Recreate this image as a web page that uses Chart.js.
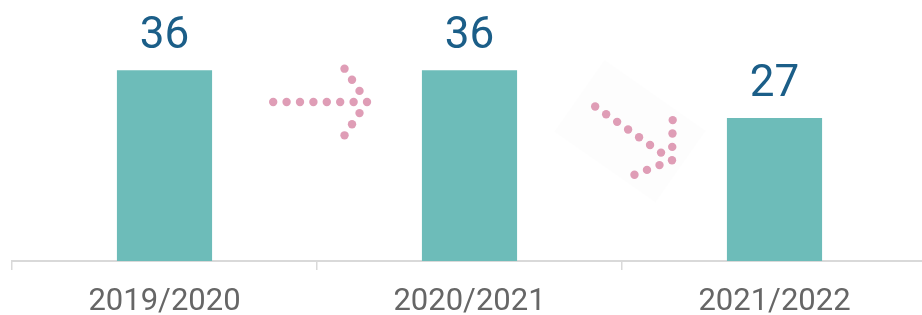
<!DOCTYPE html>
<html>
<head>
<meta charset="utf-8">
<script src="https://cdn.jsdelivr.net/npm/chart.js@4/dist/chart.umd.min.js"></script>
<style>
  html, body { margin: 0; padding: 0; background: #fff; overflow: hidden; }
  #wrap { width: 927px; height: 315px; }
</style>
</head>
<body>
<div id="wrap"><canvas id="barChart"></canvas></div>
<script>
// data
var years = ["2019/2020", "2020/2021", "2021/2022"];
var counts = [36, 36, 27];

// value labels above bars
var valueLabels = {
    id: "valueLabels",
    afterDatasetsDraw: function (chart) {
        var ctx = chart.ctx;
        var meta = chart.getDatasetMeta(0);
        ctx.save();
        ctx.font = "44px Roboto";
        ctx.fillStyle = "#1b5e88";
        ctx.textAlign = "center";
        ctx.textBaseline = "alphabetic";
        meta.data.forEach(function (bar, i) {
            ctx.fillText(counts[i], bar.x, bar.y - 22);
        });
        ctx.restore();
    }
};

// dotted arrows between bars
function dottedArrow(ctx, tx, ty, angle) {
    var step = 13.4;
    var arm = 56 * Math.PI / 180;
    var pts = [];
    for (var i = 0; i < 8; i++) {
        pts.push([tx - Math.cos(angle) * step * i, ty - Math.sin(angle) * step * i]);
    }
    [angle + Math.PI - arm, angle + Math.PI + arm].forEach(function (a) {
        for (var j = 1; j <= 3; j++) {
            pts.push([tx + Math.cos(a) * step * j, ty + Math.sin(a) * step * j]);
        }
    });
    ctx.fillStyle = "#df9db6";
    pts.forEach(function (p) {
        ctx.beginPath();
        ctx.arc(p[0], p[1], 4.2, 0, Math.PI * 2);
        ctx.fill();
    });
}

var arrows = {
    id: "arrows",
    afterDatasetsDraw: function (chart) {
        var ctx = chart.ctx;
        var x = chart.scales.x;
        var y = chart.scales.y;
        var mid1 = (x.getPixelForValue(0) + x.getPixelForValue(1)) / 2;
        var mid2 = (x.getPixelForValue(1) + x.getPixelForValue(2)) / 2;
        ctx.save();
        // very faint backdrop behind second arrow
        ctx.save();
        ctx.translate(mid2 + 8, y.getPixelForValue(24.5));
        ctx.rotate(35 * Math.PI / 180);
        ctx.fillStyle = "rgba(0,0,0,0.006)";
        ctx.fillRect(-62, -44, 124, 88);
        ctx.restore();
        dottedArrow(ctx, mid1 + 50, y.getPixelForValue(30), 0);
        dottedArrow(ctx, mid2 + 50, y.getPixelForValue(19), 35 * Math.PI / 180);
        ctx.restore();
    }
};

var ctx = document.getElementById("barChart").getContext("2d");
var myChart = new Chart(ctx, {
    type: "bar",
    data: {
        labels: years,
        datasets: [{
            data: counts,
            backgroundColor: "#6dbcb9",
            barPercentage: 0.312,
            categoryPercentage: 1,
        }, ],
    },
    options: {
        responsive: true,
        maintainAspectRatio: false,
        animation: false,
        layout: {
            padding: { left: 12, right: 0, top: 49, bottom: 0 },
        },
        plugins: {
            legend: { display: false },
            tooltip: { enabled: false },
        },
        scales: {
            x: {
                afterFit: function (scale) {
                    scale.height = 54;
                },
                grid: {
                    offset: true,
                    drawOnChartArea: false,
                    drawTicks: true,
                    tickLength: 9,
                    color: "#d9d9d9",
                    lineWidth: 1.5,
                },
                border: { display: true, color: "#d9d9d9", width: 2 },
                ticks: {
                    color: "#666666",
                    font: { family: "Roboto", size: 31, lineHeight: 0.8 },
                    padding: 20,
                },
            },
            y: {
                display: false,
                min: 0,
                max: 40,
            },
        },
    },
    plugins: [valueLabels, arrows],
});
</script>
</body>
</html>
